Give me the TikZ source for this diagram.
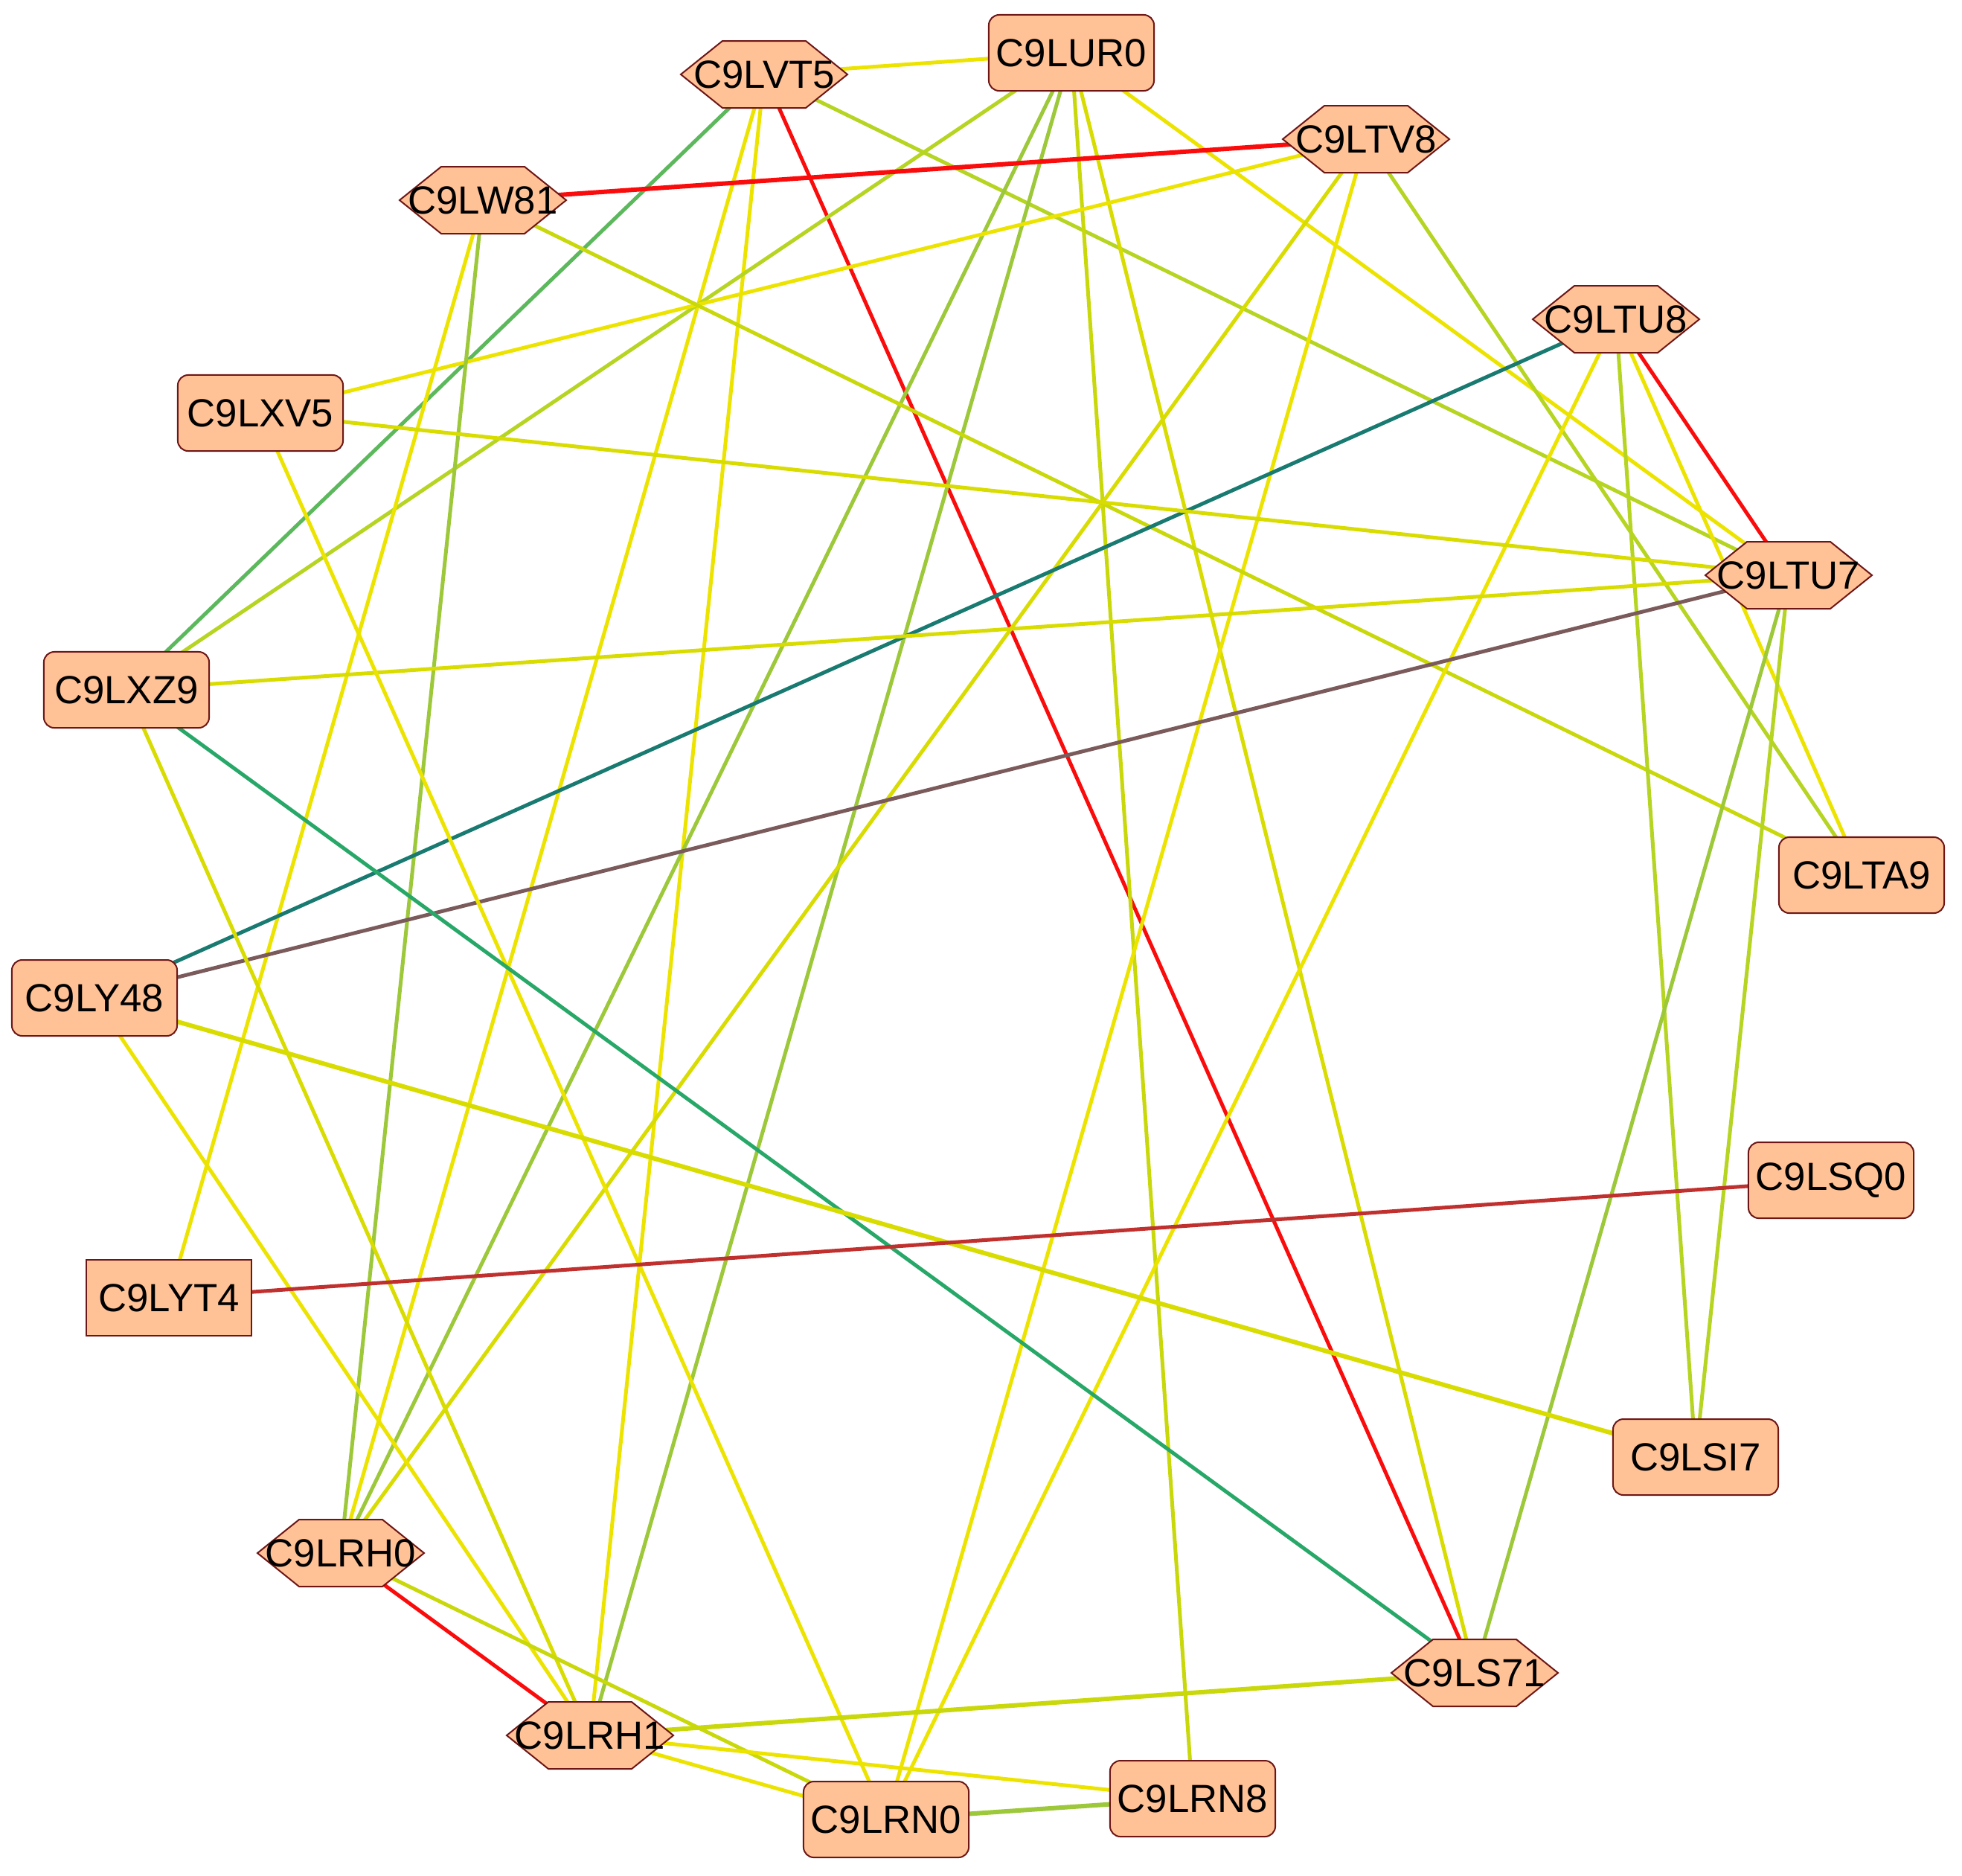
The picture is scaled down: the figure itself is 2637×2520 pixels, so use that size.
\documentclass[tikz,border=0pt]{standalone}
\usepackage{fontspec}
\setmainfont{Liberation Sans}
\pgfdeclarelayer{edges}
\pgfdeclarelayer{shapes}
\pgfsetlayers{edges,shapes,main}
\definecolor{nodefill}{RGB}{255,193,150}
\definecolor{nodeline}{RGB}{110,22,22}
\definecolor{cyel}{RGB}{236,228,0}
\definecolor{cyel2}{RGB}{216,220,0}
\definecolor{cyg}{RGB}{200,216,10}
\definecolor{cyg2}{RGB}{182,212,34}
\definecolor{cgy}{RGB}{156,200,58}
\definecolor{cgreen}{RGB}{92,184,92}
\definecolor{ctealg}{RGB}{40,168,104}
\definecolor{cteal}{RGB}{24,122,112}
\definecolor{cbrown}{RGB}{122,90,90}
\definecolor{cred}{RGB}{250,12,12}
\definecolor{cdred}{RGB}{192,48,46}
\tikzset{
  lbl/.style={inner sep=0pt, font=\fontsize{15pt}{18pt}\selectfont},
  rbox/.style={lbl, rectangle, rounded corners=0.14cm, minimum width=2.22cm, minimum height=1.02cm, fill=nodefill, draw=nodeline, line width=0.02cm},
  pbox/.style={lbl, rectangle, minimum width=2.22cm, minimum height=1.02cm, fill=nodefill, draw=nodeline, line width=0.025cm},
  hexshape/.style={fill=nodefill, draw=nodeline, line width=0.02cm, line join=miter},
  e/.style={line width=0.05cm},
  ew/.style={line width=0.06cm}
}
\newcommand\HexNode[4]{%
  \begin{pgfonlayer}{shapes}
    \draw[hexshape, shift={(#2,#3)}] (-112,0) -- (-56,-45) -- (56,-45) -- (112,0) -- (56,45) -- (-56,45) -- cycle;
  \end{pgfonlayer}
  \node[lbl] (#1) at (#2,#3) {#4};
}
\begin{document}
\begin{tikzpicture}[x=0.01cm, y=-0.01cm]
\useasboundingbox (0,0) rectangle (2637,2520);
\begin{pgfonlayer}{edges}
\fill[white] (0,0) rectangle (2637,2520);
\end{pgfonlayer}
% nodes
\HexNode{vt5}{1027}{100}{C9LVT5}
\node[rbox] (ur0) at (1440,71) {C9LUR0};
\HexNode{tv8}{1836}{187}{C9LTV8}
\HexNode{w81}{649}{269}{C9LW81}
\HexNode{tu8}{2172}{429}{C9LTU8}
\node[rbox] (xv5) at (350,555) {C9LXV5};
\HexNode{tu7}{2404}{773}{C9LTU7}
\node[rbox] (xz9) at (170,927) {C9LXZ9};
\node[rbox] (ta9) at (2502,1176) {C9LTA9};
\node[rbox] (y48) at (127,1341) {C9LY48};
\node[rbox] (sq0) at (2461,1586) {C9LSQ0};
\node[pbox] (yt4) at (227,1744) {C9LYT4};
\node[rbox] (si7) at (2279,1958) {C9LSI7};
\HexNode{rh0}{458}{2087}{C9LRH0}
\HexNode{s71}{1982}{2248}{C9LS71}
\HexNode{rh1}{793}{2332}{C9LRH1}
\node[rbox] (rn8) at (1603,2417) {C9LRN8};
\node[rbox] (rn0) at (1191,2445) {C9LRN0};
% edges
\begin{pgfonlayer}{edges}
\draw[e, cyel] (vt5.center) -- (ur0.center);
\draw[e, cgreen] (vt5.center) -- (xz9.center);
\draw[e, cyel] (vt5.center) -- (rh0.center);
\draw[e, cyel] (vt5.center) -- (rh1.center);
\draw[e, cred] (vt5.center) -- (s71.center);
\draw[e, cyg2] (vt5.center) -- (tu7.center);
\draw[e, cyg2] (ur0.center) -- (xz9.center);
\draw[e, cgy] (ur0.center) -- (rh0.center);
\draw[e, cgy] (ur0.center) -- (rh1.center);
\draw[e, cyg] (ur0.center) -- (rn8.center);
\draw[e, cyel2] (ur0.center) -- (s71.center);
\draw[e, cyel] (ur0.center) -- (tu7.center);
\draw[ew, cred] (tv8.center) -- (w81.center);
\draw[e, cyel] (tv8.center) -- (xv5.center);
\draw[e, cyel2] (tv8.center) -- (rh0.center);
\draw[e, cyel] (tv8.center) -- (rn0.center);
\draw[e, cyg2] (tv8.center) -- (ta9.center);
\draw[e, cgy] (w81.center) -- (rh0.center);
\draw[e, cyel] (w81.center) -- (yt4.center);
\draw[e, cyg] (w81.center) -- (ta9.center);
\draw[e, cteal] (tu8.center) -- (y48.center);
\draw[e, cred] (tu8.center) -- (tu7.center);
\draw[e, cyel] (tu8.center) -- (rn0.center);
\draw[e, cyg2] (tu8.center) -- (si7.center);
\draw[e, cyel] (tu8.center) -- (ta9.center);
\draw[e, cyel2] (tu7.center) -- (xv5.center);
\draw[e, cyel2] (tu7.center) -- (xz9.center);
\draw[e, cbrown] (tu7.center) -- (y48.center);
\draw[e, cgy] (tu7.center) -- (s71.center);
\draw[e, cyg2] (tu7.center) -- (si7.center);
\draw[e, cyel] (xv5.center) -- (rn0.center);
\draw[e, ctealg] (xz9.center) -- (s71.center);
\draw[e, cyel2] (xz9.center) -- (rh1.center);
\draw[ew, cyel2] (y48.center) -- (si7.center);
\draw[e, cyel] (y48.center) -- (rh1.center);
\draw[e, cdred] (sq0.center) -- (yt4.center);
\draw[e, cred] (rh0.center) -- (rh1.center);
\draw[e, cyg] (rh0.center) -- (rn0.center);
\draw[ew, cyg] (rh1.center) -- (s71.center);
\draw[e, cyel] (rh1.center) -- (rn8.center);
\draw[e, cyel] (rh1.center) -- (rn0.center);
\draw[ew, cgy] (rn0.center) -- (rn8.center);
\end{pgfonlayer}
\end{tikzpicture}
\end{document}
